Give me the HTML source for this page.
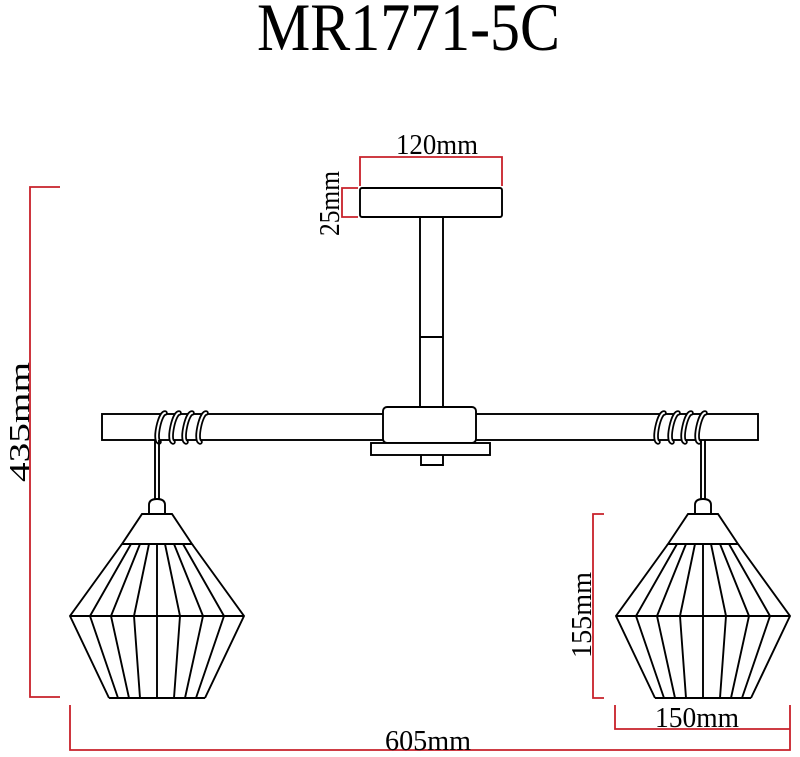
<!DOCTYPE html>
<html><head><meta charset="utf-8"><style>html,body{margin:0;padding:0;background:#fff}svg{display:block}</style></head>
<body>
<svg width="800" height="757" viewBox="0 0 800 757" xmlns="http://www.w3.org/2000/svg">
<defs>
<g id="lamp" fill="none" stroke="#000" stroke-width="1.9">
  <line x1="-2" y1="440" x2="-2" y2="500"/><line x1="2" y1="440" x2="2" y2="500"/>
  <path d="M-8,514 V505 Q-8,499 0,499 Q8,499 8,505 V514" fill="#fff"/>
  <polygon points="-15,514 15,514 35,544 -35,544"/>
  <g>
    <polyline points="-35,544 -87,616 -48,698"/>
    <polyline points="-26,544 -67,616 -39,698"/>
    <polyline points="-17,544 -46,616 -28,698"/>
    <polyline points="-8,544 -23,616 -17,698"/>
    <polyline points="0,544 0,616 0,698"/>
    <polyline points="8,544 23,616 17,698"/>
    <polyline points="17,544 46,616 28,698"/>
    <polyline points="26,544 67,616 39,698"/>
    <polyline points="35,544 87,616 48,698"/>
  </g>
  <line x1="-87" y1="616" x2="87" y2="616"/>
  <line x1="-48" y1="698" x2="48" y2="698"/>
</g>
<g id="coil">
  <path d="M1,413 C-4,413 -10,440 -5,442" fill="none" stroke="#000" stroke-width="5.5" stroke-linecap="round"/>
  <path d="M1,413 C-4,413 -10,440 -5,442" fill="none" stroke="#fff" stroke-width="2" stroke-linecap="round"/>
</g>
</defs>

<text x="257" y="50" font-family="Liberation Serif, serif" font-size="68" textLength="303" lengthAdjust="spacingAndGlyphs">MR1771-5C</text>

<g fill="none" stroke="#000" stroke-width="1.9">
  <rect x="360" y="188" width="142" height="29" rx="2"/>
  <rect x="420" y="217" width="23" height="190"/>
  <line x1="420" y1="337" x2="443" y2="337"/>
  <rect x="102" y="414" width="656" height="26" fill="#fff"/>
  <rect x="383" y="407" width="93" height="36" rx="4" fill="#fff"/>
  <rect x="371" y="443" width="119" height="12" fill="#fff"/>
  <path d="M421,455 V465 H443 V455"/>
</g>

<use href="#coil" x="164"/><use href="#coil" x="178"/><use href="#coil" x="191"/><use href="#coil" x="205"/>
<use href="#coil" x="663"/><use href="#coil" x="677"/><use href="#coil" x="690"/><use href="#coil" x="704"/>

<use href="#lamp" x="157"/>
<use href="#lamp" x="703"/>

<g stroke="#c8202a" stroke-width="1.8" fill="none">
  <path d="M360,186 V157 H502 V186"/>
  <path d="M358,188 H342 V217 H358"/>
  <path d="M60,187 H30 V697 H60"/>
  <path d="M604,514 H593 V698 H604"/>
  <path d="M615,705 V729 H790"/>
  <path d="M790,705 V750 H70 V705"/>
</g>

<g font-family="Liberation Serif, serif" font-size="29" fill="#000">
  <text x="396" y="154" textLength="82" lengthAdjust="spacingAndGlyphs">120mm</text>
  <text x="385" y="750" textLength="86" lengthAdjust="spacingAndGlyphs">605mm</text>
  <text x="655" y="727" textLength="84" lengthAdjust="spacingAndGlyphs">150mm</text>
  <text transform="translate(339,236) rotate(-90)" textLength="65" lengthAdjust="spacingAndGlyphs">25mm</text>
  <text transform="translate(29,482) rotate(-90)" textLength="120" lengthAdjust="spacingAndGlyphs">435mm</text>
  <text transform="translate(591,658) rotate(-90)" textLength="86" lengthAdjust="spacingAndGlyphs">155mm</text>
</g>
</svg>
</body></html>
